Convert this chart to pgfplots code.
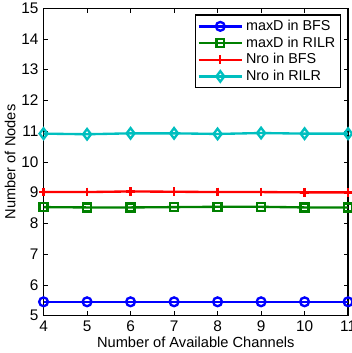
\documentclass[border=0pt]{standalone}
\usepackage{fontspec}
\setmainfont{Liberation Sans}
\usepackage{pgfplots}
\pgfplotsset{compat=1.18}
\definecolor{mblue}{rgb}{0,0,1}
\definecolor{mgreen}{rgb}{0,0.5,0}
\definecolor{mred}{rgb}{1,0,0}
\definecolor{mcyan}{rgb}{0,0.75,0.75}
\begin{document}
\begin{tikzpicture}
\begin{axis}[name=ax,
  scale only axis, width=208pt, height=210pt,
  xmin=4, xmax=11, ymin=5, ymax=15,
  xtick={4,...,11}, ytick={5,...,15},
  tick align=inside, tick pos=both,
  major tick length=3pt,
  axis line style={line width=0.8pt},
  every tick/.style={black, line width=0.5pt},
  /pgf/number format/assume math mode=true,
  tick label style={font=\fontsize{10.5}{12}\selectfont},
  label style={font=\fontsize{10}{12}\selectfont},
  xlabel={Number of Available Channels},
  ylabel={Number of Nodes},
  xlabel style={yshift=3pt},
  ylabel style={yshift=-3pt},
  legend style={at={(rel axis cs:0.977,0.98)}, anchor=north east,
    font=\fontsize{9.8}{11}\selectfont, draw=black, line width=0.8pt,
    row sep=-1.2pt, inner sep=1.5pt, cells={anchor=west}},
  legend image code/.code={
    \draw[mark repeat=2,mark phase=2,#1] plot coordinates {(0cm,0cm) (0.52cm,0cm) (1.04cm,0cm)};},
  every axis plot/.append style={line width=1.6pt},
]
\addplot[mblue, mark=o, mark size=3pt] coordinates {(4,5.45) (5,5.45) (6,5.45) (7,5.45) (8,5.45) (9,5.45) (10,5.45) (11,5.45)};
\addlegendentry{maxD in BFS}
\addplot[mgreen, mark=square, mark size=2.7pt] coordinates {(4,8.53) (5,8.52) (6,8.52) (7,8.53) (8,8.54) (9,8.54) (10,8.52) (11,8.52)};
\addlegendentry{maxD in RILR}
\addplot[mred, mark=+, mark size=3pt] coordinates {(4,9.02) (5,9.02) (6,9.04) (7,9.03) (8,9.02) (9,9.02) (10,9.01) (11,9.01)};
\addlegendentry{Nro in BFS}
\addplot[mcyan, mark=diamond, mark size=3.6pt] coordinates {(4,10.92) (5,10.90) (6,10.93) (7,10.93) (8,10.91) (9,10.94) (10,10.92) (11,10.92)};
\addlegendentry{Nro in RILR}
\end{axis}
\pgfresetboundingbox
\useasboundingbox (ax.outer south west) rectangle ([xshift=2.1pt,yshift=5.6pt]ax.north east);
\end{tikzpicture}
\end{document}
